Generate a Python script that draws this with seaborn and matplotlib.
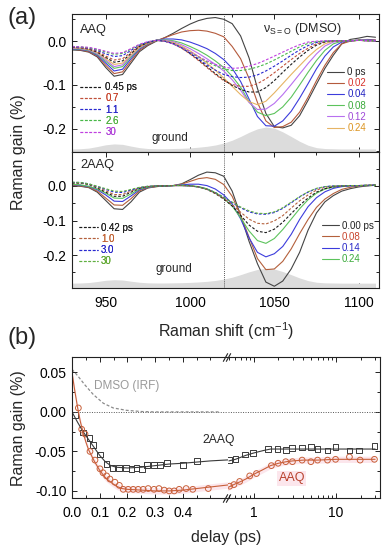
import numpy as np
import matplotlib
matplotlib.use("Agg")
import matplotlib.pyplot as plt
from matplotlib.ticker import MultipleLocator, FixedLocator, NullFormatter, FuncFormatter, LogLocator
import seaborn as sns

# =============================================
# 1. Data
# =============================================
raman_shift = [930, 935, 940, 945, 950, 955, 960, 965, 970, 975, 980, 985, 990, 995,
               1000, 1005, 1010, 1015, 1020, 1025, 1030, 1035, 1040, 1045, 1050, 1055,
               1060, 1065, 1070, 1075, 1080, 1085, 1090, 1095, 1100, 1105, 1110]

# ground state spectrum (normalised)
ground = [0.00, 0.01, 0.04, 0.11, 0.19, 0.23, 0.21, 0.13, 0.06, 0.02, 0.01, 0.01, 0.02, 0.03,
          0.05, 0.08, 0.12, 0.18, 0.27, 0.40, 0.57, 0.76, 0.92, 1.00, 0.95, 0.78, 0.57, 0.35,
          0.17, 0.06, 0.02, 0.01, 0.00, 0.00, 0.00, 0.00, 0.00]

# AAQ, early delays (solid)
aaq_solid_labels = ["0 ps", "0.02", "0.04", "0.08", "0.12", "0.24"]
aaq_0 = [-0.020, -0.021, -0.025, -0.036, -0.060, -0.080, -0.076, -0.050, -0.024, -0.010, 0.000, 0.008, 0.018, 0.029,
         0.039, 0.047, 0.052, 0.054, 0.050, 0.040, 0.012, -0.038, -0.108, -0.165, -0.195, -0.198, -0.192, -0.170,
         -0.135, -0.098, -0.062, -0.032, -0.006, 0.004, 0.007, 0.011, 0.009]
aaq_002 = [-0.018, -0.020, -0.024, -0.034, -0.055, -0.074, -0.070, -0.045, -0.021, -0.008, 0.001, 0.008, 0.015, 0.021,
           0.024, 0.025, 0.023, 0.018, 0.010, -0.012, -0.040, -0.085, -0.140, -0.182, -0.197, -0.195, -0.185, -0.162,
           -0.128, -0.090, -0.055, -0.026, -0.006, 0.000, 0.002, 0.004, 0.003]
aaq_004 = [-0.018, -0.019, -0.022, -0.032, -0.050, -0.068, -0.064, -0.040, -0.018, -0.006, 0.002, 0.005, 0.005, 0.003,
           -0.002, -0.009, -0.017, -0.028, -0.042, -0.062, -0.092, -0.132, -0.172, -0.193, -0.194, -0.182, -0.160, -0.130,
           -0.097, -0.063, -0.034, -0.013, -0.002, 0.001, 0.002, 0.003, 0.002]
aaq_008 = [-0.017, -0.018, -0.021, -0.030, -0.046, -0.062, -0.058, -0.036, -0.016, -0.005, 0.002, 0.003, 0.001, -0.004,
           -0.012, -0.021, -0.032, -0.045, -0.060, -0.080, -0.105, -0.138, -0.162, -0.170, -0.165, -0.150, -0.128, -0.100,
           -0.071, -0.044, -0.021, -0.006, 0.000, 0.001, 0.002, 0.002, 0.001]
aaq_012 = [-0.016, -0.017, -0.020, -0.028, -0.043, -0.058, -0.054, -0.033, -0.015, -0.004, 0.002, 0.002, -0.001, -0.008,
           -0.017, -0.028, -0.040, -0.053, -0.068, -0.088, -0.112, -0.140, -0.156, -0.155, -0.142, -0.122, -0.099, -0.075,
           -0.051, -0.029, -0.011, -0.002, 0.001, 0.001, 0.002, 0.002, 0.001]
aaq_024 = [-0.015, -0.016, -0.019, -0.026, -0.040, -0.053, -0.050, -0.031, -0.014, -0.004, 0.002, 0.001, -0.003, -0.011,
           -0.022, -0.035, -0.050, -0.066, -0.084, -0.103, -0.122, -0.138, -0.145, -0.137, -0.118, -0.097, -0.076, -0.056,
           -0.036, -0.019, -0.006, 0.000, 0.001, 0.001, 0.002, 0.001, 0.001]

# AAQ, late delays (dashed)
aaq_dash_labels = ["0.45 ps", "0.7", "1.1", "2.6", "30"]
aaq_045 = [-0.014, -0.015, -0.018, -0.025, -0.037, -0.048, -0.045, -0.028, -0.012, -0.003, 0.002, 0.000, -0.005, -0.015,
           -0.028, -0.042, -0.058, -0.074, -0.088, -0.101, -0.110, -0.116, -0.116, -0.106, -0.090, -0.071, -0.053, -0.036,
           -0.021, -0.009, -0.002, 0.001, 0.001, 0.001, 0.002, 0.001, 0.001]
aaq_07 = [-0.014, -0.015, -0.017, -0.023, -0.034, -0.043, -0.040, -0.025, -0.011, -0.003, 0.002, 0.000, -0.006, -0.016,
          -0.029, -0.044, -0.060, -0.076, -0.090, -0.099, -0.103, -0.103, -0.097, -0.086, -0.072, -0.057, -0.042, -0.028,
          -0.016, -0.006, -0.001, 0.001, 0.001, 0.001, 0.002, 0.001, 0.001]
aaq_11 = [-0.013, -0.014, -0.016, -0.021, -0.029, -0.035, -0.033, -0.021, -0.009, -0.002, 0.002, 0.000, -0.006, -0.015,
          -0.027, -0.040, -0.054, -0.066, -0.076, -0.081, -0.083, -0.082, -0.077, -0.068, -0.057, -0.045, -0.032, -0.020,
          -0.010, -0.003, 0.000, 0.001, 0.001, 0.001, 0.002, 0.001, 0.001]
aaq_26 = [-0.012, -0.013, -0.015, -0.019, -0.025, -0.030, -0.028, -0.018, -0.008, -0.002, 0.002, 0.000, -0.006, -0.014,
          -0.025, -0.036, -0.047, -0.056, -0.063, -0.067, -0.067, -0.064, -0.059, -0.052, -0.043, -0.033, -0.023, -0.013,
          -0.005, -0.001, 0.000, 0.001, 0.001, 0.001, 0.002, 0.001, 0.001]
aaq_30 = [-0.012, -0.013, -0.014, -0.018, -0.023, -0.028, -0.026, -0.017, -0.007, -0.001, 0.002, 0.000, -0.006, -0.014,
          -0.024, -0.035, -0.045, -0.053, -0.059, -0.062, -0.061, -0.057, -0.051, -0.043, -0.034, -0.025, -0.016, -0.008,
          -0.002, 0.000, 0.001, 0.001, 0.001, 0.001, 0.002, 0.001, 0.001]

# 2AAQ, early delays (solid)
aaq2_solid_labels = ["0.00 ps", "0.08", "0.14", "0.24"]
aaq2_000 = [0.000, -0.001, -0.005, -0.018, -0.042, -0.066, -0.068, -0.046, -0.018, -0.006, -0.002, 0.000, 0.001, 0.006,
            0.018, 0.031, 0.040, 0.038, 0.028, -0.015, -0.085, -0.160, -0.225, -0.278, -0.290, -0.275, -0.240, -0.192,
            -0.128, -0.078, -0.046, -0.028, -0.015, -0.008, -0.003, 0.000, 0.002]
aaq2_008 = [0.002, 0.000, -0.004, -0.015, -0.035, -0.055, -0.056, -0.037, -0.014, -0.005, -0.002, 0.000, 0.001, 0.005,
            0.013, 0.021, 0.024, 0.019, 0.004, -0.030, -0.085, -0.148, -0.210, -0.242, -0.240, -0.218, -0.182, -0.138,
            -0.097, -0.062, -0.038, -0.022, -0.010, -0.004, 0.000, 0.001, 0.002]
aaq2_014 = [0.004, 0.002, -0.002, -0.011, -0.026, -0.044, -0.045, -0.029, -0.011, -0.004, -0.001, 0.000, 0.001, 0.003,
            0.005, 0.005, 0.001, -0.009, -0.026, -0.052, -0.095, -0.150, -0.192, -0.205, -0.196, -0.175, -0.140, -0.097,
            -0.060, -0.034, -0.017, -0.007, -0.002, 0.000, 0.001, 0.001, 0.002]
aaq2_024 = [0.005, 0.003, -0.001, -0.009, -0.021, -0.035, -0.036, -0.023, -0.009, -0.003, -0.001, 0.000, 0.001, 0.002,
            0.001, -0.002, -0.008, -0.020, -0.036, -0.058, -0.092, -0.130, -0.158, -0.166, -0.152, -0.126, -0.096, -0.066,
            -0.040, -0.021, -0.009, -0.003, 0.000, 0.001, 0.001, 0.001, 0.002]

# 2AAQ, late delays (dashed)
aaq2_dash_labels = ["0.42 ps", "1.0", "3.0", "30"]
aaq2_042 = [0.008, 0.008, 0.004, -0.006, -0.018, -0.030, -0.030, -0.018, -0.007, -0.002, 0.000, 0.000, 0.001, 0.001,
            0.000, -0.003, -0.010, -0.022, -0.038, -0.058, -0.085, -0.113, -0.131, -0.135, -0.125, -0.105, -0.080, -0.056,
            -0.035, -0.018, -0.008, -0.003, 0.000, 0.001, 0.001, 0.002, 0.002]
aaq2_10 = [0.009, 0.009, 0.005, -0.004, -0.014, -0.025, -0.025, -0.015, -0.006, -0.002, 0.000, 0.000, 0.001, 0.001,
           0.000, -0.003, -0.010, -0.021, -0.036, -0.054, -0.076, -0.096, -0.108, -0.110, -0.101, -0.086, -0.064, -0.043,
           -0.026, -0.012, -0.004, -0.001, 0.000, 0.001, 0.001, 0.002, 0.002]
aaq2_30 = [0.010, 0.010, 0.006, -0.002, -0.010, -0.018, -0.019, -0.012, -0.005, -0.001, 0.000, 0.000, 0.001, 0.001,
           0.000, -0.003, -0.009, -0.019, -0.033, -0.048, -0.063, -0.075, -0.081, -0.082, -0.077, -0.065, -0.049, -0.032,
           -0.018, -0.008, -0.002, 0.000, 0.000, 0.001, 0.001, 0.002, 0.002]
aaq2_300 = [0.011, 0.010, 0.006, -0.001, -0.008, -0.015, -0.016, -0.010, -0.004, -0.001, 0.000, 0.000, 0.001, 0.001,
            0.000, -0.003, -0.009, -0.019, -0.033, -0.047, -0.061, -0.072, -0.079, -0.080, -0.075, -0.063, -0.047, -0.031,
            -0.017, -0.007, -0.002, 0.000, 0.000, 0.001, 0.001, 0.002, 0.002]

# (b) kinetics at the S=O band
aaq_delay = [0.023, 0.035, 0.047, 0.065, 0.083, 0.101, 0.112, 0.125, 0.137, 0.155, 0.171, 0.185, 0.203, 0.221,
             0.239, 0.257, 0.275, 0.296, 0.314, 0.333, 0.351, 0.369, 0.387, 0.412, 0.436, 0.492,
             0.51, 0.575, 0.675, 0.894, 1.08, 1.64, 1.98, 2.45, 2.96, 3.88, 4.96, 5.98, 7.9, 9.9, 14.6, 19.7, 29.4]
aaq_gain = [0.005, -0.022, -0.028, -0.050, -0.061, -0.072, -0.077, -0.081, -0.085, -0.089, -0.093, -0.098, -0.098, -0.098,
            -0.098, -0.098, -0.097, -0.098, -0.097, -0.099, -0.100, -0.100, -0.098, -0.097, -0.098, -0.097,
            -0.094, -0.092, -0.088, -0.081, -0.078, -0.068, -0.065, -0.063, -0.063, -0.061, -0.063, -0.061, -0.061,
            -0.060, -0.057, -0.061, -0.060]
aaq2_delay = [0.011, 0.039, 0.063, 0.077, 0.101, 0.125, 0.146, 0.171, 0.194, 0.215, 0.233, 0.253, 0.272, 0.296,
              0.318, 0.342, 0.40, 0.452, 0.508,
              0.60, 0.79, 0.98, 1.49, 1.94, 2.45, 2.93, 3.88, 4.96, 5.98, 7.9, 9.9, 14.6, 19.0, 29.4]
aaq2_gain = [-0.004, -0.026, -0.033, -0.042, -0.054, -0.066, -0.071, -0.071, -0.071, -0.072, -0.071, -0.072, -0.067, -0.067,
             -0.067, -0.065, -0.067, -0.062, -0.061,
             -0.060, -0.054, -0.052, -0.047, -0.047, -0.048, -0.046, -0.045, -0.044, -0.047, -0.049, -0.044, -0.049,
             -0.049, -0.043]

aaq_fit_delay = [0, 0.01, 0.02, 0.03, 0.04, 0.05, 0.06, 0.08, 0.10, 0.12, 0.14, 0.16, 0.18, 0.2, 0.25, 0.3, 0.35, 0.4,
                 0.45, 0.5, 0.6, 0.7, 0.8, 1.0, 1.3, 1.6, 2, 2.5, 3, 4, 6, 10, 20, 30]
aaq_fit_gain = [0.050, 0.027, 0.006, -0.012, -0.026, -0.038, -0.048, -0.062, -0.074, -0.083, -0.089, -0.094, -0.097,
                -0.098, -0.099, -0.100, -0.100, -0.099, -0.097, -0.095, -0.091, -0.088, -0.085, -0.079, -0.073, -0.068,
                -0.065, -0.063, -0.062, -0.061, -0.061, -0.060, -0.060, -0.060]
aaq2_fit_delay = [0, 0.02, 0.04, 0.06, 0.08, 0.10, 0.12, 0.14, 0.16, 0.2, 0.25, 0.3, 0.35, 0.4, 0.5, 0.6, 0.8, 1.0,
                  1.3, 1.6, 2, 3, 5, 10, 20, 30]
aaq2_fit_gain = [0.0, -0.013, -0.025, -0.035, -0.045, -0.055, -0.063, -0.068, -0.070, -0.071, -0.070, -0.068, -0.066,
                 -0.065, -0.062, -0.060, -0.055, -0.052, -0.049, -0.047, -0.047, -0.047, -0.047, -0.047, -0.047, -0.047]
irf_delay = [0, 0.02, 0.047, 0.077, 0.113, 0.149, 0.197, 0.25, 0.3, 0.4, 0.53]
irf_gain = [0.054, 0.046, 0.034, 0.022, 0.011, 0.005, 0.002, 0.0005, 0.0, 0.0, 0.0]

# =============================================
# 2. Style
# =============================================
sns.set_theme(style="ticks")
plt.rcParams["font.family"] = ["Liberation Sans", "DejaVu Sans"]
plt.rcParams["mathtext.fontset"] = "custom"
plt.rcParams["mathtext.rm"] = "Liberation Sans"
plt.rcParams["axes.unicode_minus"] = False
plt.rcParams["axes.edgecolor"] = "#222222"
plt.rcParams["axes.linewidth"] = 0.8

DASH = (0, (2.4, 1.6))
GROUND_COLOR = "#dcdcdc"

fig = plt.figure(figsize=(3.87, 5.5), dpi=100)
ax_top = fig.add_axes([0.186, 0.7236, 0.793, 0.2509])
ax_bot = fig.add_axes([0.186, 0.4764, 0.793, 0.2472])
ax_l = fig.add_axes([0.186, 0.0945, 0.403, 0.2564])
ax_r = fig.add_axes([0.589, 0.0945, 0.393, 0.2564])


def tick_style(ax):
    ax.tick_params(which="both", direction="in", top=True, right=True, colors="#222222",
                   labelcolor="black", labelsize=10, width=0.7)
    ax.tick_params(which="major", length=3.5, pad=4)
    ax.tick_params(which="minor", length=2)


def draw_curves(ax, series, colors, style):
    handles = []
    for vals, col in zip(series, colors):
        sns.lineplot(x=raman_shift, y=vals, ax=ax, color=col, lw=0.8, linestyle=style)
        handles.append(ax.lines[-1])
    return handles


def add_legend(ax, handles, labels, text_colors, loc, anchor, hlen):
    leg = ax.legend(handles, labels, loc=loc, bbox_to_anchor=anchor, frameon=False, fontsize=7,
                    handlelength=hlen, handletextpad=0.35, labelspacing=0.12, borderpad=0,
                    borderaxespad=0)
    for txt, col in zip(leg.get_texts(), text_colors):
        txt.set_color(col)
    ax.add_artist(leg)


# =============================================
# 3. Panel (a): transient spectra
# =============================================
for ax, ylim, base, height in [(ax_top, (-0.253, 0.062), -0.246, 0.050),
                               (ax_bot, (-0.295, 0.098), -0.281, 0.043)]:
    ax.fill_between(raman_shift, ylim[0], base + height * np.array(ground), color=GROUND_COLOR, lw=0)
    ax.axvline(1020, color="#222222", ls=(0, (1, 1.5)), lw=0.6)
    ax.set_xlim(930, 1112)
    ax.set_ylim(*ylim)
    ax.xaxis.set_major_locator(MultipleLocator(50))
    ax.xaxis.set_minor_locator(MultipleLocator(25))
    ax.yaxis.set_major_locator(MultipleLocator(0.1))
    ax.yaxis.set_minor_locator(MultipleLocator(0.05))
    ax.yaxis.set_major_formatter(FuncFormatter(lambda v, p: f"{v:.1f}"))
    tick_style(ax)
    ax.set_xlabel("")
    ax.set_ylabel("")
ax_top.tick_params(labelbottom=False)
ax_bot.tick_params(axis="x", pad=6)

top_solid = draw_curves(ax_top, [aaq_0, aaq_002, aaq_004, aaq_008, aaq_012, aaq_024],
                        ["#444444", "#b45a3c", "#3c3cdc", "#5cc35c", "#b870f0", "#e6b464"], "-")
top_dash = draw_curves(ax_top, [aaq_045, aaq_07, aaq_11, aaq_26, aaq_30],
                       ["#1a1a1a", "#c0503a", "#2828d0", "#48b848", "#c040e0"], DASH)
bot_solid = draw_curves(ax_bot, [aaq2_000, aaq2_008, aaq2_014, aaq2_024],
                        ["#444444", "#b4603c", "#3c3cdc", "#5cc35c"], "-")
bot_dash = draw_curves(ax_bot, [aaq2_042, aaq2_10, aaq2_30, aaq2_300],
                       ["#1a1a1a", "#b4603c", "#2828d0", "#60b040"], DASH)

add_legend(ax_top, top_solid, aaq_solid_labels,
           ["#222222", "#d8312a", "#2020c0", "#3aaa3a", "#9e48d8", "#dc9420"],
           "upper right", (0.958, 0.615), 1.75)
add_legend(ax_top, top_dash, aaq_dash_labels,
           ["#222222", "#c8442c", "#2828c8", "#50b040", "#b040d8"],
           "upper left", (0.026, 0.505), 2.25)
add_legend(ax_bot, bot_solid, aaq2_solid_labels,
           ["#222222", "#c8442c", "#2828c8", "#3aaa3a"],
           "upper right", (0.984, 0.495), 1.75)
add_legend(ax_bot, bot_dash, aaq2_dash_labels,
           ["#222222", "#c06030", "#2828c8", "#60a830"],
           "upper left", (0.022, 0.48), 1.95)

ax_top.text(0.026, 0.884, "AAQ", transform=ax_top.transAxes, fontsize=9.2, va="center")
ax_top.text(0.75, 0.89, r"ν$_{\mathrm{S=O}}$ (DMSO)", transform=ax_top.transAxes, fontsize=9,
            ha="center", va="center")
ax_top.text(0.318, 0.10, "ground", transform=ax_top.transAxes, fontsize=8.5, ha="center", va="center")
ax_bot.text(0.026, 0.904, "2AAQ", transform=ax_bot.transAxes, fontsize=9.2, va="center")
ax_bot.text(0.333, 0.14, "ground", transform=ax_bot.transAxes, fontsize=8.5, ha="center", va="center")

fig.text(0.047, 0.724, "Raman gain (%)", rotation=90, ha="center", va="center", fontsize=11.5)
fig.text(0.583, 0.398, r"Raman shift (cm$^{-1}$)", ha="center", va="center", fontsize=11.5)
fig.text(0.058, 0.967, "(a)", ha="center", va="center", fontsize=17)
fig.text(0.057, 0.385, "(b)", ha="center", va="center", fontsize=17)

# =============================================
# 4. Panel (b): kinetics with broken delay axis
# =============================================
AAQ_COLOR = "#c8603a"
AAQ2_COLOR = "#3a3a3a"
aaq_delay_a = np.array(aaq_delay)
aaq_gain_a = np.array(aaq_gain)
aaq2_delay_a = np.array(aaq2_delay)
aaq2_gain_a = np.array(aaq2_gain)
fit_t = np.array(aaq_fit_delay)
fit_g = np.array(aaq_fit_gain)
fit2_t = np.array(aaq2_fit_delay)
fit2_g = np.array(aaq2_fit_gain)

for ax, side in [(ax_l, "left"), (ax_r, "right")]:
    if side == "left":
        m1, m2 = aaq_delay_a < 0.5, aaq2_delay_a < 0.5
        f1, f2 = fit_t <= 0.6, fit2_t <= 0.6
    else:
        m1, m2 = aaq_delay_a >= 0.5, aaq2_delay_a >= 0.5
        f1, f2 = fit_t >= 0.45, fit2_t >= 0.45
    ax.axhline(0, color="#555555", ls=(0, (1, 1.5)), lw=0.7)
    ax.fill_between(fit_t[f1], fit_g[f1] - 0.004, fit_g[f1] + 0.004, color="#fce6ec", lw=0)
    sns.lineplot(x=fit2_t[f2], y=fit2_g[f2], ax=ax, color=AAQ2_COLOR, lw=0.8)
    sns.lineplot(x=fit_t[f1], y=fit_g[f1], ax=ax, color=AAQ_COLOR, lw=0.8)
    sns.scatterplot(x=aaq2_delay_a[m2], y=aaq2_gain_a[m2], ax=ax, marker="s", s=17,
                    color=AAQ2_COLOR, facecolor="none", edgecolor=AAQ2_COLOR, linewidth=0.7)
    sns.scatterplot(x=aaq_delay_a[m1], y=aaq_gain_a[m1], ax=ax, marker="o", s=17,
                    color=AAQ_COLOR, facecolor="none", edgecolor=AAQ_COLOR, linewidth=0.7)
    ax.set_ylim(-0.109, 0.0695)
    ax.yaxis.set_major_locator(MultipleLocator(0.05))
    ax.yaxis.set_minor_locator(MultipleLocator(0.025))
    ax.yaxis.set_major_formatter(FuncFormatter(lambda v, p: f"{v:.2f}"))
    tick_style(ax)
    ax.tick_params(axis="x", pad=6)
    ax.set_xlabel("")
    ax.set_ylabel("")

sns.lineplot(x=irf_delay, y=irf_gain, ax=ax_l, color="#8c8c8c", lw=0.9, linestyle=DASH)
ax_l.set_xlim(0, 0.563)
ax_l.xaxis.set_major_locator(FixedLocator([0, 0.1, 0.2, 0.3, 0.4]))
ax_l.xaxis.set_minor_locator(FixedLocator([0.05, 0.15, 0.25, 0.35, 0.45, 0.5]))
ax_l.xaxis.set_major_formatter(FuncFormatter(lambda v, p: f"{v:.1f}"))
ax_l.spines["right"].set_visible(False)
ax_l.tick_params(which="both", right=False)

ax_r.set_xscale("log")
ax_r.set_xlim(0.486, 34.4)
ax_r.xaxis.set_major_locator(LogLocator(base=10))
ax_r.xaxis.set_minor_locator(LogLocator(base=10, subs=np.arange(2, 10)))
ax_r.xaxis.set_major_formatter(FuncFormatter(lambda v, p: f"{v:g}"))
ax_r.xaxis.set_minor_formatter(NullFormatter())
ax_r.spines["left"].set_visible(False)
ax_r.tick_params(which="both", left=False, labelleft=False)

# break marks
for x0 in (-0.018, 0.0):
    ax_r.plot([x0, x0], [0, 1], transform=ax_r.transAxes, marker=[(-1, -1.8), (1, 1.8)],
              markersize=6, linestyle="none", color="#222222", mec="#222222", mew=0.8, clip_on=False)

ax_l.text(0.199, 0.033, "DMSO (IRF)", color="#9a9a9a", fontsize=8.5, ha="center", va="center")
ax_r.text(2.9, -0.084, "AAQ", color="#b8422e", fontsize=9, ha="center", va="center",
          bbox=dict(facecolor="#fce6ec", edgecolor="none", pad=1))
fig.text(0.566, 0.200, "2AAQ", fontsize=8.7, ha="center", va="center")

fig.text(0.047, 0.222, "Raman gain (%)", rotation=90, ha="center", va="center", fontsize=11.5)
fig.text(0.584, 0.022, "delay (ps)", ha="center", va="center", fontsize=11.5)

fig.savefig("out.png", dpi=100)
